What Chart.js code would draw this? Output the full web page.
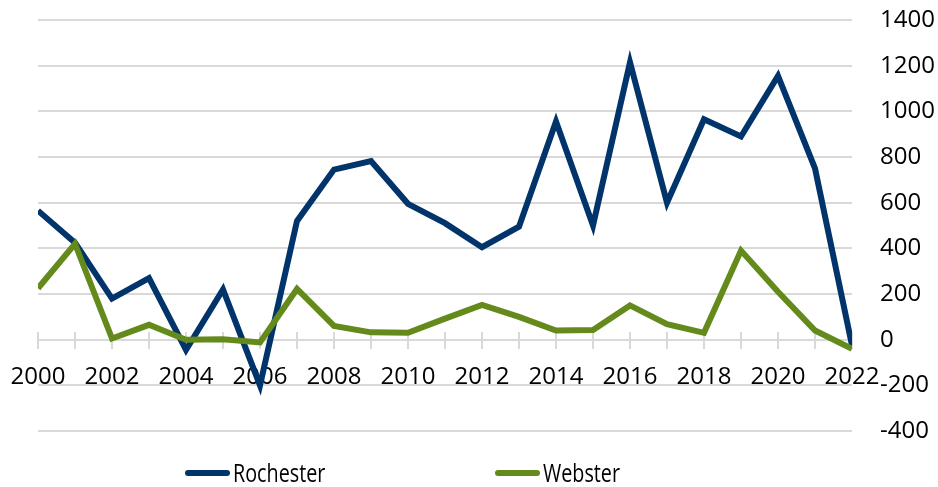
<!DOCTYPE html>
<html>
<head>
<meta charset="utf-8">
<script src="https://cdn.jsdelivr.net/npm/chart.js@4/dist/chart.umd.min.js"></script>
<style>
  html, body { margin: 0; padding: 0; background: #fff; }
  #wrap { position: relative; width: 938px; height: 487px; }
  #legend { position: absolute; left: 0; top: 0; width: 938px; height: 487px; pointer-events: none; }
  .lg-item { position: absolute; top: 460px; height: 30px; }
  .lg-swatch { position: absolute; left: 0; top: 10px; width: 45px; height: 6px; border-radius: 3px; }
  .lg-text { position: absolute; left: 48px; top: 0; font-family: 'Open Sans', sans-serif; font-size: 25px; line-height: 25px;
             color: #000; white-space: nowrap; transform: scaleX(0.79); transform-origin: 0 0; }
</style>
</head>
<body>
<div id="wrap">
  <canvas id="c" width="938" height="487"></canvas>
  <div id="legend"></div>
</div>
<script>
const years = ['2000','2001','2002','2003','2004','2005','2006','2007','2008','2009','2010','2011',
               '2012','2013','2014','2015','2016','2017','2018','2019','2020','2021','2022'];
const seriesNames = ['Rochester', 'Webster'];
const rochester = [565, 425, 180, 270, -45, 220, -200, 520, 745, 782, 595, 510, 405, 495, 955, 500, 1215, 600, 965, 890, 1155, 750, -25];
const webster   = [225, 420, 5, 65, 0, 2, -12, 222, 60, 32, 30, 92, 152, 100, 40, 42, 150, 68, 30, 390, 210, 40, -40];
const yMin = -400, yMax = 1400, yStep = 200;

const colors = ['#00346B', '#648A1B'];
const legendLeft = [185, 495];

const gridColor = '#d9d9d9';
const tickFont = { family: "'Open Sans', sans-serif", size: 24 };

const noPad = s => { s.paddingLeft = 0; s.paddingRight = 0; s.paddingTop = 0; s.paddingBottom = 0; };

const chart = new Chart(document.getElementById('c'), {
  type: 'line',
  data: {
    labels: years,
    datasets: [
      { label: seriesNames[0], data: rochester, borderColor: colors[0], backgroundColor: colors[0],
        borderWidth: 6, pointRadius: 0, tension: 0, clip: 0, order: 1 },
      { label: seriesNames[1], data: webster, borderColor: colors[1], backgroundColor: colors[1],
        borderWidth: 6, pointRadius: 0, tension: 0, clip: 0, order: 0 }
    ]
  },
  options: {
    responsive: false,
    animation: false,
    events: [],
    layout: { padding: { left: 38, top: 20, right: 0, bottom: 56 } },
    plugins: { legend: { display: false }, tooltip: { enabled: false }, title: { display: false } },
    scales: {
      x: {
        type: 'category',
        position: { y: 0 },
        afterFit: s => { s.height = 0; noPad(s); },
        grid: { drawOnChartArea: false, drawTicks: true, tickLength: 8, color: gridColor, lineWidth: 2 },
        border: { display: true, color: gridColor, width: 2 },
        ticks: {
          autoSkip: false, maxRotation: 0, minRotation: 0, padding: 15,
          color: '#000', font: tickFont,
          callback: (v, i) => (i % 2 === 0 ? years[i] : '')
        }
      },
      x2: {
        type: 'category',
        position: { y: 0 },
        afterFit: s => { s.height = 0; noPad(s); },
        grid: { drawOnChartArea: false, drawTicks: true, tickLength: -8, color: gridColor, lineWidth: 2 },
        border: { display: false },
        ticks: { display: false, autoSkip: false }
      },
      y: {
        position: 'right',
        min: yMin, max: yMax,
        afterFit: s => { s.width = 86; noPad(s); },
        grid: { color: gridColor, lineWidth: 2, drawTicks: false },
        border: { display: false },
        ticks: { stepSize: yStep, padding: 28, color: '#000', font: tickFont,
                 callback: v => String(v) }
      }
    }
  }
});

// HTML legend built from the chart's datasets
const legendEl = document.getElementById('legend');
chart.data.datasets.forEach((ds, i) => {
  const item = document.createElement('div');
  item.className = 'lg-item';
  item.style.left = legendLeft[i] + 'px';
  const sw = document.createElement('div');
  sw.className = 'lg-swatch';
  sw.style.background = ds.borderColor;
  const tx = document.createElement('span');
  tx.className = 'lg-text';
  tx.textContent = ds.label;
  item.appendChild(sw);
  item.appendChild(tx);
  legendEl.appendChild(item);
});
</script>
</body>
</html>
